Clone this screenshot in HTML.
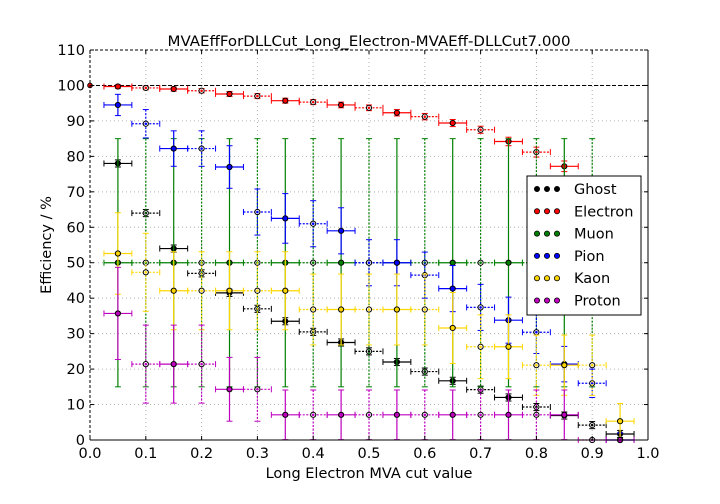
<!DOCTYPE html>
<html><head><meta charset="utf-8"><style>
body{margin:0;background:#fff;}
svg{display:block;font-family:"DejaVu Sans","Liberation Sans",sans-serif;}
</style></head><body>
<svg id="c" width="720" height="504" viewBox="0 0 720 504"></svg>
<script>
const xCenters=[0.05,0.10,0.15,0.20,0.25,0.30,0.35,0.40,0.45,0.50,0.55,0.60,0.65,0.70,0.75,0.80,0.85,0.90,0.95];
const seriesNames=["Ghost","Electron","Muon","Pion","Kaon","Proton"];
const seriesColors=["#000000","#ff0000","#008000","#0000ff","#ffd700","#bf00bf"];
const ghostVals=[78,64,54,47,41.5,37,33.5,30.5,27.5,25,22,19.3,16.7,14.2,12,9.3,6.9,4.2,1.7];
const ghostErr=[1,1,1,1,1,1,1,1,1,1,1,1,1,1,1,1,1,1,1];
const electronVals=[99.7,99.3,99.0,98.5,97.6,97.0,95.7,95.3,94.5,93.7,92.3,91.2,89.4,87.5,84.2,81.2,77.2,70,60];
const electronErr=[0.5,0.5,0.6,0.6,0.7,0.7,0.7,0.7,0.8,0.8,0.9,0.9,1,1,1.2,1.4,1.5,2,3];
const muonVals=[50,50,50,50,50,50,50,50,50,50,50,50,50,50,50,50,50,50,null];
const muonErr=[35,35,35,35,35,35,35,35,35,35,35,35,35,35,35,35,35,35,0];
const pionVals=[94.5,89.2,82.2,82.2,77,64.3,62.5,61,59,50,50,46.5,42.7,37.4,33.8,30.4,21.4,16,0];
const pionErr=[3,4,5,5,6,6.5,7,6.5,6.5,6.5,6.5,6.5,6.5,6.5,6.5,6,5,4,2];
const kaonVals=[52.6,47.3,42.1,42.1,42.1,42.1,42.1,36.8,36.8,36.8,36.8,36.8,31.6,26.3,26.3,21.1,21.1,21.1,5.3];
const kaonErr=[11.5,11,11,11,11,11,11,10,10,10,10,10,10,9,9,8.5,8.5,8.5,5];
const protonVals=[35.7,21.4,21.4,21.4,14.3,14.3,7.1,7.1,7.1,7.1,7.1,7.1,7.1,7.1,7.1,7.1,7.1,0,0];
const protonErr=[13,11,11,11,9,9,7,7,7,7,7,7,7,7,7,7,7,0,0];
const xTicks=[0,0.1,0.2,0.3,0.4,0.5,0.6,0.7,0.8,0.9,1.0];
const yTicks=[0,10,20,30,40,50,60,70,80,90,100,110];

const L=90,R=648,T=50,B=440;
const sx=v=>L+(R-L)*v;
const sy=v=>B-(B-T)*v/110;
const NS="http://www.w3.org/2000/svg";
const svg=document.getElementById('c');
function mk(tag,attrs,parent){const e=document.createElementNS(NS,tag);for(const k in attrs)e.setAttribute(k,attrs[k]);(parent||svg).appendChild(e);return e;}

const grid=mk('g',{});


xTicks.forEach(t=>{if(t>0&&t<1)mk('line',{x1:sx(t),x2:sx(t),y1:T,y2:B,stroke:'#b0b0b0','stroke-dasharray':'1,3'},grid);});
yTicks.forEach(t=>{if(t>0&&t<110)mk('line',{x1:L,x2:R,y1:sy(t),y2:sy(t),stroke:'#b0b0b0','stroke-dasharray':'1,3'},grid);});
const ref=mk('line',{x1:L,x2:R,y1:sy(100),y2:sy(100),stroke:'#000','stroke-dasharray':'4,2'});



const allVals=[ghostVals,electronVals,muonVals,pionVals,kaonVals,protonVals];
const allErr=[ghostErr,electronErr,muonErr,pionErr,kaonErr,protonErr];
allVals.forEach((vals,si)=>{
  const g=mk('g',{});
  
  
  const col=seriesColors[si];
  vals.forEach((v,i)=>{
    if(v===null)return;
    const x=xCenters[i],e=allErr[si][i];
    const dash=(i%2===1)?'2,1.5':'none';
    const cx=sx(x),cy=sy(v);
    mk('line',{x1:sx(x-0.025),x2:sx(x+0.025),y1:cy,y2:cy,stroke:col,'stroke-width':1.2,'stroke-dasharray':dash},g);
    [sx(x-0.025),sx(x+0.025)].forEach(px=>mk('line',{x1:px,x2:px,y1:cy-3,y2:cy+3,stroke:col,'stroke-width':1},g));
    if(e>0){
      const y1=sy(Math.min(110,v+e)),y2=sy(Math.max(0,v-e));
      mk('line',{x1:cx,x2:cx,y1:y1,y2:y2,stroke:col,'stroke-width':1.2,'stroke-dasharray':dash},g);
      [y1,y2].forEach(py=>mk('line',{x1:cx-3,x2:cx+3,y1:py,y2:py,stroke:col,'stroke-width':1},g));
    }
    const p=mk('circle',{cx:cx,cy:cy,r:2.6,fill:(i%2===1)?'#fff':col,stroke:'#000','stroke-width':1},g);
    if(i%2===1)mk('circle',{cx:cx,cy:cy,r:1.3,fill:col},g);
    
    
  });
});
mk('circle',{cx:sx(0),cy:sy(100),r:2.3,fill:'#f00',stroke:'#000'});

mk('line',{x1:L,x2:R,y1:T,y2:T,stroke:'#000','stroke-dasharray':'3,2'});
mk('line',{x1:L,x2:L,y1:T,y2:B,stroke:'#000','stroke-dasharray':'3,2'});
mk('line',{x1:L,x2:R,y1:B,y2:B,stroke:'#000'});
mk('line',{x1:R,x2:R,y1:T,y2:B,stroke:'#000'});

const xa=mk('g',{});


xTicks.forEach(t=>{
  mk('line',{x1:sx(t),x2:sx(t),y1:B,y2:B-4,stroke:'#000'},xa);
  mk('line',{x1:sx(t),x2:sx(t),y1:T,y2:T+4,stroke:'#000'},xa);
  const tx=mk('text',{x:sx(t),y:B+18,'text-anchor':'middle','font-size':14.5},xa);tx.textContent=t.toFixed(1);
});
const ya=mk('g',{});


yTicks.forEach(t=>{
  mk('line',{x1:L,x2:L+4,y1:sy(t),y2:sy(t),stroke:'#000'},ya);
  mk('line',{x1:R,x2:R-4,y1:sy(t),y2:sy(t),stroke:'#000'},ya);
  const tx=mk('text',{x:L-5,y:sy(t)+5,'text-anchor':'end','font-size':14.5},ya);tx.textContent=t;
});
const tt=mk('text',{x:369,y:46,'text-anchor':'middle','font-size':14.5,textLength:403,lengthAdjust:'spacingAndGlyphs'});tt.textContent='MVAEffForDLLCut_Long_Electron-MVAEff-DLLCut7.000';

const xl=mk('text',{x:369,y:478,'text-anchor':'middle','font-size':14.5});xl.textContent='Long Electron MVA cut value';

const yl=mk('text',{x:51,y:245,'text-anchor':'middle','font-size':14.5,transform:'rotate(-90 51 245)'});yl.textContent='Efficiency / %';


const lg=mk('g',{});


mk('rect',{x:527,y:176,width:114,height:139,fill:'#fff',stroke:'#000'},lg);
seriesNames.forEach((n,i)=>{
  const y=189+i*22.3;
  const e=mk('g',{},lg);
  
  
  [537,547,557].forEach(x=>mk('circle',{cx:x,cy:y,r:2.6,fill:seriesColors[i],stroke:'#000','stroke-width':0.8},e));
  const t=mk('text',{x:574,y:y+5,'font-size':14.5},e);t.textContent=n;
});
</script>
</body></html>
